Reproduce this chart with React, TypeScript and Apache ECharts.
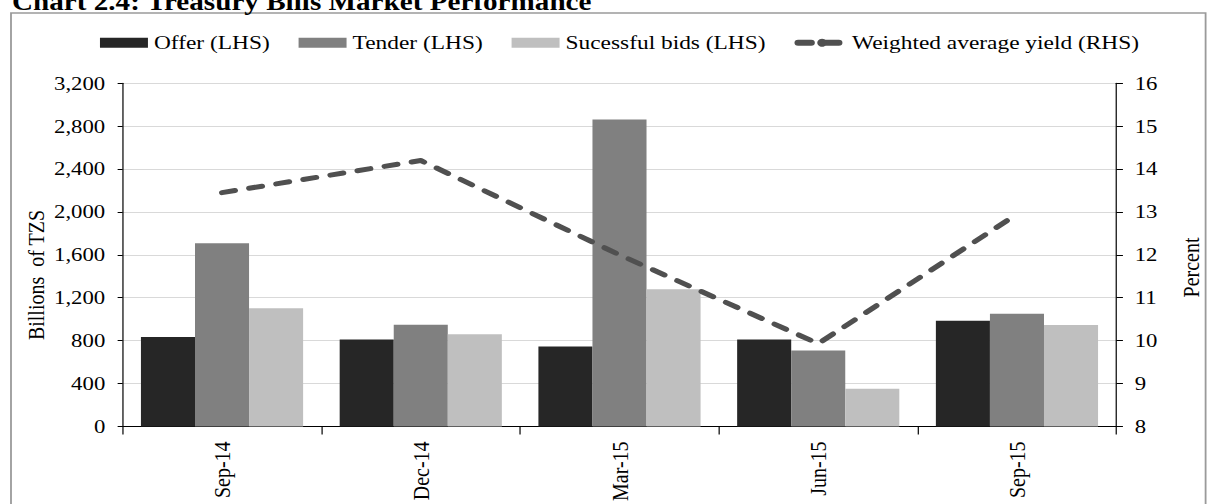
import React, { useEffect, useRef } from 'react';
import * as echarts from 'echarts';

const categories = ['Sep-14', 'Dec-14', 'Mar-15', 'Jun-15', 'Sep-15'];
const offer = [835, 810, 745, 810, 986];
const tender = [1709, 949, 2863, 708, 1051];
const successfulBids = [1101, 860, 1280, 352, 946];
const weightedYield = [13.45, 14.2, 12.0, 9.93, 12.95];

const leftAxisRange = { min: 0, max: 3200, interval: 400 };
const rightAxisRange = { min: 8, max: 16, interval: 1 };

const seriesNames = ['Offer (LHS)', 'Tender (LHS)', 'Sucessful bids (LHS)', 'Weighted average yield (RHS)'];
const titleText = 'Chart 2.4: Treasury Bills Market Performance';
const leftAxisName = 'Billions  of TZS';
const rightAxisName = 'Percent';

const S = 1.2; // horizontal stretch of the reference
const W = 1007;
const H = 504;
const sx = (px: number) => px / S;
const FONT = "'Liberation Serif', 'Times New Roman', serif";

export default function App() {
  const ref = useRef<HTMLDivElement>(null);
  useEffect(() => {
    if (!ref.current) return;
    const chart = echarts.init(ref.current, undefined, { renderer: 'svg' });
    const fmt = (v: number) => v.toLocaleString('en-US');
    chart.setOption({
      animation: false,
      backgroundColor: '#ffffff',
      textStyle: { fontFamily: FONT, color: '#000' },
      graphic: [
        {
          type: 'rect',
          shape: { x: sx(11), y: 13, width: sx(1206) - sx(11), height: 600 },
          style: { fill: 'none', stroke: '#9a9a9a', lineWidth: 1.5 },
          silent: true,
        },
        {
          type: 'text',
          x: sx(12),
          y: 2.3,
          style: {
            text: titleText,
            font: `bold 24.3px ${FONT}`,
            fill: '#000',
            textAlign: 'left',
            textVerticalAlign: 'middle',
          },
        },
        {
          type: 'text',
          x: sx(36),
          y: 275,
          rotation: Math.PI / 2,
          style: {
            text: leftAxisName,
            font: `20px ${FONT}`,
            fill: '#000',
            textAlign: 'center',
            textVerticalAlign: 'middle',
          },
        },
        {
          type: 'text',
          x: sx(1191.5),
          y: 267.5,
          rotation: Math.PI / 2,
          style: {
            text: rightAxisName,
            font: `20px ${FONT}`,
            fill: '#000',
            textAlign: 'center',
            textVerticalAlign: 'middle',
          },
        },
      ],
      legend: {
        left: sx(100),
        top: 32.7,
        padding: 0,
        itemGap: 24,
        itemWidth: 40,
        itemHeight: 10,
        textStyle: { fontFamily: FONT, fontSize: 19.5, color: '#000', lineHeight: 20 },
        lineStyle: { width: 6, type: [11, 12], cap: 'round' },
        data: [
          { name: seriesNames[0], icon: 'rect' },
          { name: seriesNames[1], icon: 'rect' },
          { name: seriesNames[2], icon: 'rect' },
          { name: seriesNames[3] },
        ],
      },
      grid: {
        left: sx(122.7),
        right: W - sx(1116.7),
        top: 83.3,
        bottom: H - 428,
        containLabel: false,
      },
      xAxis: {
        type: 'category',
        data: categories,
        boundaryGap: true,
        axisLine: { lineStyle: { color: '#000', width: 1 } },
        axisTick: { show: true, length: 8, lineStyle: { color: '#000' } },
        axisLabel: { rotate: 90, margin: 15, fontSize: 20, color: '#000', fontFamily: FONT },
        splitLine: { show: false },
      },
      yAxis: [
        {
          type: 'value',
          position: 'left',
          min: leftAxisRange.min,
          max: leftAxisRange.max,
          interval: leftAxisRange.interval,
          axisLine: { show: true, lineStyle: { color: '#000', width: 1 } },
          axisTick: { show: true, length: 4.2, lineStyle: { color: '#000' } },
          axisLabel: { margin: 14.5, fontSize: 19, color: '#000', fontFamily: FONT, formatter: fmt },
          splitLine: { show: true, lineStyle: { color: '#d9d9d9', width: 1 } },
        },
        {
          type: 'value',
          position: 'right',
          min: rightAxisRange.min,
          max: rightAxisRange.max,
          interval: rightAxisRange.interval,
          axisLine: { show: true, lineStyle: { color: '#000', width: 1 } },
          axisTick: { show: true, length: 5.5, lineStyle: { color: '#000' } },
          axisLabel: { margin: 15.3, fontSize: 19, color: '#000', fontFamily: FONT },
          splitLine: { show: false },
        },
      ],
      series: [
        {
          name: seriesNames[0],
          type: 'bar',
          data: offer,
          barGap: '0%',
          barCategoryGap: '18.4%',
          itemStyle: { color: '#262626' },
        },
        {
          name: seriesNames[1],
          type: 'bar',
          data: tender,
          barGap: '0%',
          barCategoryGap: '18.4%',
          itemStyle: { color: '#808080' },
        },
        {
          name: seriesNames[2],
          type: 'bar',
          data: successfulBids,
          barGap: '0%',
          barCategoryGap: '18.4%',
          itemStyle: { color: '#bfbfbf' },
        },
        {
          name: seriesNames[3],
          type: 'line',
          yAxisIndex: 1,
          data: weightedYield,
          symbol: 'none',
          itemStyle: { color: '#505050' },
          lineStyle: { color: '#505050', width: 5, type: [11, 12], cap: 'round', join: 'round' },
          z: 5,
        },
      ],
    });
    return () => chart.dispose();
  }, []);
  return (
    <div
      ref={ref}
      style={{
        position: 'absolute',
        left: 0,
        top: 0,
        width: W + 'px',
        height: H + 'px',
        transform: `scaleX(${1208 / W})`,
        transformOrigin: '0 0',
      }}
    />
  );
}
